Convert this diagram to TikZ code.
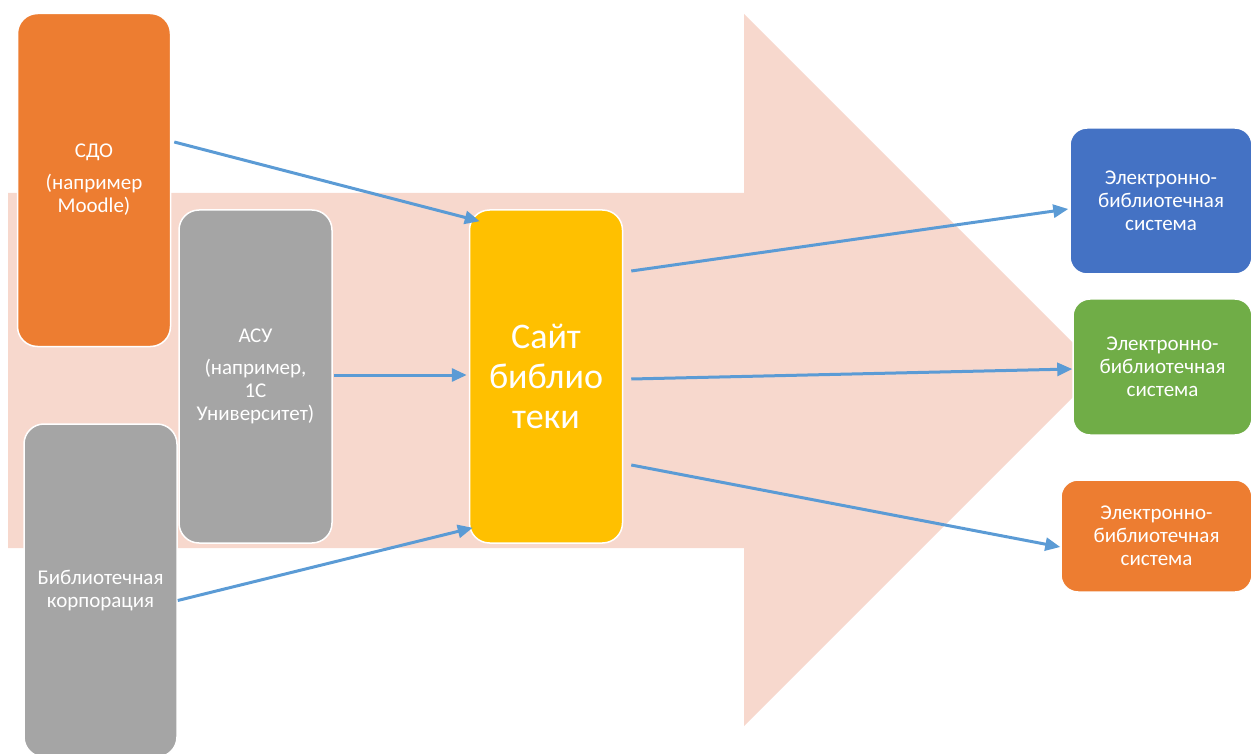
\documentclass[tikz,border=0pt]{standalone}
\usepackage{fontspec}
\setmainfont{Carlito}
\usetikzlibrary{arrows.meta,calc}
\definecolor{bgarrow}{HTML}{F7D8CD}
\definecolor{cOrange}{HTML}{ED7D31}
\definecolor{cGray}{HTML}{A5A5A5}
\definecolor{cYellow}{HTML}{FFC000}
\definecolor{cBlue}{HTML}{4472C4}
\definecolor{cGreen}{HTML}{70AD47}
\definecolor{cLine}{HTML}{5B9BD5}
\tikzset{
  tallbox/.style={rectangle, rounded corners=20pt, draw=white, line width=1.5pt,
    minimum width=153pt, minimum height=333pt, text=white, align=center,
    font=\fontsize{21}{23}\selectfont, inner sep=0pt},
  ebsbox/.style={rectangle, rounded corners=17pt, draw=white, line width=1.5pt,
    text=white, align=center, font=\fontsize{21}{23}\selectfont, inner sep=0pt},
  conn/.style={draw=cLine, line width=3pt, -{Triangle[length=15pt,width=13pt]}},
}
\begin{document}
\begin{tikzpicture}[x=1pt,y=-1pt]
\useasboundingbox (0,0) rectangle (1251,754);
% big background arrow
\fill[bgarrow] (8,193) -- (744,193) -- (744,14) -- (1100,370) -- (744,726) -- (744,548) -- (8,548) -- cycle;
% boxes
\node[tallbox, fill=cOrange] (sdo) at (94,180) {СДО\\[9pt](например\\Moodle)};
\node[tallbox, fill=cGray] (asu) at (255.5,376.5) {АСУ\\[9pt](например,\\1С\\Университет)};
\node[tallbox, fill=cGray] (bk) at (100.5,590.5) {Библиотечная\\корпорация};
\node[tallbox, fill=cYellow, font=\fontsize{36}{40}\selectfont] (site) at (546,376.5) {Сайт\\библио\\теки};
\node[ebsbox, fill=cBlue, minimum width=182pt, minimum height=146pt] (e1) at (1161,201) {Электронно-\\библиотечная\\система};
\node[ebsbox, fill=cGreen, minimum width=179pt, minimum height=136pt] (e2) at (1162.5,367) {Электронно-\\библиотечная\\система};
\node[ebsbox, fill=cOrange, minimum width=191pt, minimum height=112pt] (e3) at (1156.5,536) {Электронно-\\библиотечная\\система};
% connectors
\draw[conn] ([shift={(3,-38)}]sdo.east) -- ([shift={(11,12)}]site.north west);
\draw[conn] ([shift={(1,-1.5)}]asu.east) -- ([shift={(-2,-1.5)}]site.west);
\draw[conn] ([shift={(0,10)}]bk.east) -- ([shift={(4,-16)}]site.south west);
\draw[conn] ([shift={(8,-105.5)}]site.east) -- ([shift={(-1,8)}]e1.west);
\draw[conn] ([shift={(8,2.5)}]site.east) -- ([shift={(0,2)}]e2.west);
\draw[conn] ([shift={(8,88.5)}]site.east) -- ([shift={(0,11)}]e3.west);
\end{tikzpicture}
\end{document}
